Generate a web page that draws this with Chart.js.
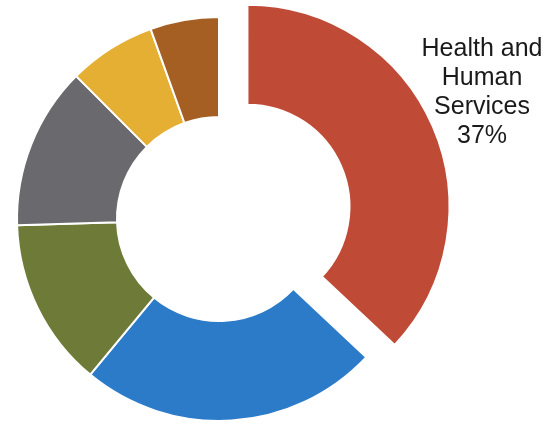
<!DOCTYPE html>
<html>
<head>
<meta charset="utf-8">
<script src="https://cdn.jsdelivr.net/npm/chart.js@4/dist/chart.umd.min.js"></script>
<style>
    html, body { margin: 0; padding: 0; background: #fff; }
    #wrap { width: 553px; height: 427px; }
</style>
</head>
<body>
<div id="wrap"><canvas id="chart" width="553" height="427"></canvas></div>
<script>
'use strict';

let categories = ['Health and Human Services', 'Social Security', 'Defense', 'Treasury', 'Veterans Affairs', 'Other'],
    shares = [37, 24, 13.5, 13, 7, 5.5],
    colors = ['#BF4B37', '#2B7BC8', '#6E7A37', '#69696E', '#E4AF32', '#A55F23'],
    labelLines = ['Health and', 'Human', 'Services'];

// how far each slice is pulled out of the ring, px
let explode = shares.map(function (x, i) { return i === 0 ? 31 : 0; });

// chart.js' own `offset` also grows the arc's radii, so move the
// arc centre along its mid angle instead and keep the ring width
let explodeSlices = {
    id: 'explodeSlices',
    afterDatasetUpdate: function (chart, args) {
        args.meta.data.forEach(function (arc, i) {
            if (!explode[i]) {
                return;
            }
            let mid = (arc.startAngle + arc.endAngle) / 2;
            arc.x += Math.cos(mid) * explode[i];
            arc.y += Math.sin(mid) * explode[i];
        });
    }
};

let sliceLabel = {
    id: 'sliceLabel',
    afterDraw: function (chart) {
        let ctx = chart.ctx;
        let total = shares.reduce(function (a, b) { return a + b; }, 0);
        let lines = labelLines.concat([Math.round(shares[0] / total * 100) + '%']);

        ctx.save();
        ctx.font = '25px "Liberation Sans", Arial, sans-serif';
        ctx.fillStyle = '#1a1a1a';
        ctx.textAlign = 'center';
        ctx.textBaseline = 'middle';
        lines.forEach(function (line, i) {
            ctx.fillText(line, 482, 49 + i * 29);
        });
        ctx.restore();
    }
};

function drawChart() {
    let ctx = document.getElementById('chart').getContext('2d');

    new Chart(ctx, {
        type: 'doughnut',
        data: {
            labels: categories,
            datasets: [{
                data: shares,
                backgroundColor: colors,
                borderColor: '#ffffff',
                borderWidth: 2,
                hoverOffset: 0
            }]
        },
        options: {
            responsive: false,
            animation: false,
            events: [],
            radius: 202,
            cutout: '50.5%',
            layout: { padding: { left: 0, right: 115, top: 11, bottom: 0 } },
            plugins: {
                legend: { display: false },
                tooltip: { enabled: false }
            }
        },
        plugins: [explodeSlices, sliceLabel]
    });
}

drawChart();
</script>
</body>
</html>
